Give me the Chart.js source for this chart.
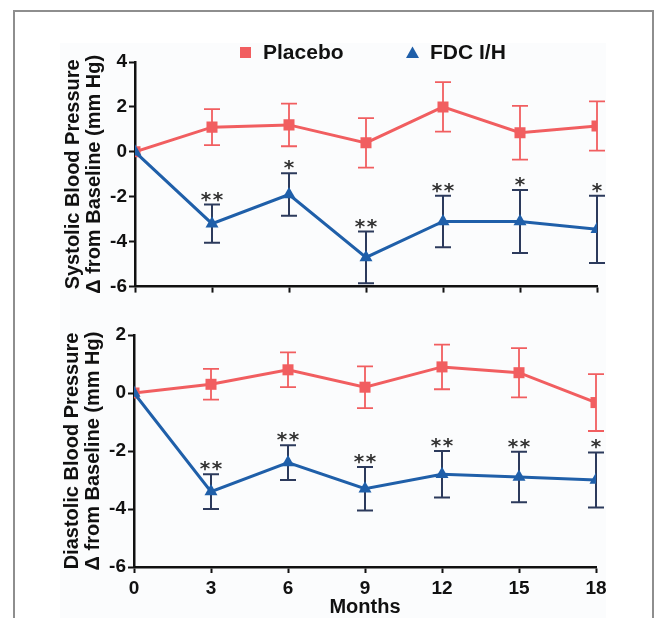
<!DOCTYPE html>
<html>
<head>
<meta charset="utf-8">
<script src="https://cdn.jsdelivr.net/npm/chart.js@4.4.1/dist/chart.umd.min.js"></script>
<style>
  html, body { margin: 0; padding: 0; background: #fff; overflow: hidden; }
  body { width: 658px; height: 618px; position: relative; }
  #frame { position: absolute; left: 13px; top: 10px; width: 637px; height: 640px; border: 2px solid #8e8e8e; }
  #paper { position: absolute; left: 60px; top: 43px; width: 546px; height: 600px; background: #fbfcfd; }
  .box { position: absolute; left: 0; width: 658px; }
  #top { top: 0; height: 300px; }
  #bottom { top: 300px; height: 318px; }
</style>
</head>
<body>
<div id="frame"></div>
<div id="paper"></div>
<div class="box" id="top"><canvas id="sbpChart"></canvas></div>
<div class="box" id="bottom"><canvas id="dbpChart"></canvas></div>
<script>
const months = [0, 3, 6, 9, 12, 15, 18];
const seriesNames = ['Placebo', 'FDC I/H'];

// systolic, change from baseline (mean and SE)
const sbpPlacebo = [0, 1.1, 1.2, 0.4, 2.0, 0.85, 1.15];
const sbpPlaceboErr = [0, 0.8, 0.95, 1.1, 1.1, 1.2, 1.1];
const sbpFdc = [0, -3.2, -1.9, -4.7, -3.1, -3.1, -3.45];
const sbpFdcErr = [0, 0.85, 0.95, 1.15, 1.15, 1.4, 1.5];
const sbpSig = ['', '**', '*', '**', '**', '*', '*'];
const sbpTicks = [-6, -4, -2, 0, 2, 4];

// diastolic
const dbpPlacebo = [0, 0.3, 0.8, 0.2, 0.9, 0.7, -0.33];
const dbpPlaceboErr = [0, 0.53, 0.6, 0.72, 0.77, 0.85, 0.98];
const dbpFdc = [0, -3.4, -2.4, -3.3, -2.8, -2.9, -3.0];
const dbpFdcErr = [0, 0.6, 0.6, 0.75, 0.8, 0.87, 0.95];
const dbpSig = ['', '**', '**', '**', '**', '**', '*'];
const dbpTicks = [-6, -4, -2, 0, 2];

const RED = '#f15e60';
const BLUE = '#1f5fa9';
const NAVY = '#2c3a5c';
const FONT = "'Liberation Sans', Arial, sans-serif";

// vertical error bars + significance stars, drawn through the chart scales
const errorBars = {
  id: 'errorBars',
  beforeDatasetsDraw(chart) {
    const ctx = chart.ctx;
    const xs = chart.scales.x, ys = chart.scales.y;
    chart.data.datasets.forEach(ds => {
      ctx.save();
      ctx.strokeStyle = ds.errColor;
      ctx.lineWidth = ds.errWidth;
      ds.data.forEach((p, i) => {
        const e = ds.err[i];
        if (!e) return;
        const x = xs.getPixelForValue(p.x);
        const yt = ys.getPixelForValue(p.y + e);
        const yb = ys.getPixelForValue(p.y - e);
        ctx.beginPath();
        ctx.moveTo(x, yt); ctx.lineTo(x, yb);
        ctx.moveTo(x - 8, yt); ctx.lineTo(x + 8, yt);
        ctx.moveTo(x - 8, yb); ctx.lineTo(x + 8, yb);
        ctx.stroke();
      });
      ctx.restore();
    });
  },
  afterDatasetsDraw(chart) {
    const ctx = chart.ctx;
    const xs = chart.scales.x, ys = chart.scales.y;
    chart.data.datasets.forEach(ds => {
      if (!ds.sig) return;
      ctx.save();
      ctx.fillStyle = '#333';
      ctx.font = 'bold 20px "DejaVu Sans", sans-serif';
      ctx.textAlign = 'center';
      ctx.textBaseline = 'alphabetic';
      ds.data.forEach((p, i) => {
        const s = ds.sig[i];
        if (!s) return;
        const x = xs.getPixelForValue(p.x);
        const y = ys.getPixelForValue(p.y + ds.err[i]) + 1;
        const n = s.length;
        for (let k = 0; k < n; k++) {
          ctx.fillText('*', x + (k - (n - 1) / 2) * 12, y);
        }
      });
      ctx.restore();
    });
  }
};

const legendBox = {
  id: 'legendBox',
  afterDraw(chart) {
    const ctx = chart.ctx;
    ctx.save();
    ctx.fillStyle = RED;
    ctx.fillRect(240, 47, 11, 11);
    ctx.fillStyle = BLUE;
    ctx.beginPath();
    ctx.moveTo(412.5, 46.5); ctx.lineTo(419, 58); ctx.lineTo(406, 58);
    ctx.closePath(); ctx.fill();
    ctx.fillStyle = '#111';
    ctx.font = 'bold 21px ' + FONT;
    ctx.textBaseline = 'middle';
    ctx.fillText(seriesNames[0], 263, 53);
    ctx.fillText(seriesNames[1], 430, 53);
    ctx.restore();
  }
};

function toPoints(values) {
  return values.map((v, i) => ({ x: months[i], y: v }));
}

function makeChart(canvasId, opts) {
  const ctx = document.getElementById(canvasId).getContext('2d');
  return new Chart(ctx, {
    type: 'line',
    data: {
      datasets: [{
        label: seriesNames[1],
        data: toPoints(opts.fdc),
        err: opts.fdcErr,
        sig: opts.sig,
        errColor: NAVY,
        errWidth: 2,
        borderColor: BLUE,
        backgroundColor: BLUE,
        borderWidth: 3,
        pointStyle: 'triangle',
        pointRadius: 7.5,
        pointBorderWidth: 0,
        order: 0
      }, {
        label: seriesNames[0],
        data: toPoints(opts.placebo),
        err: opts.placeboErr,
        errColor: RED,
        errWidth: 1.8,
        borderColor: RED,
        backgroundColor: RED,
        borderWidth: 3,
        pointStyle: 'rect',
        pointRadius: 7.8,
        pointBorderWidth: 0,
        order: 1
      }]
    },
    options: {
      responsive: true,
      maintainAspectRatio: false,
      animation: false,
      layout: { padding: opts.padding },
      plugins: { legend: { display: false }, tooltip: { enabled: false } },
      scales: {
        x: {
          type: 'linear',
          min: 0,
          max: 18,
          afterBuildTicks: s => { s.ticks = months.map(v => ({ value: v })); },
          afterFit: s => { s.height = opts.xHeight; },
          border: { color: '#111', width: 2.5 },
          grid: { drawOnChartArea: false, drawTicks: true, tickLength: 6, tickWidth: 2, tickColor: '#111' },
          ticks: { display: opts.showX, color: '#111', padding: 4, font: { family: FONT, size: 19, weight: 'bold' } },
          title: {
            display: opts.showX,
            text: 'Months',
            color: '#111',
            padding: { top: 0, bottom: 0 },
            font: { family: FONT, size: 20, weight: 'bold', lineHeight: 1.05 }
          }
        },
        y: {
          min: opts.yTicks[0],
          max: opts.yTicks[opts.yTicks.length - 1],
          afterBuildTicks: s => { s.ticks = opts.yTicks.map(v => ({ value: v })); },
          afterFit: s => { s.width = 77; },
          border: { color: '#111', width: 2.5 },
          grid: { drawOnChartArea: false, drawTicks: true, tickLength: 6, tickWidth: 2, tickColor: '#111' },
          ticks: { color: '#111', padding: 2, font: { family: FONT, size: 19, weight: 'bold' } },
          title: {
            display: true,
            text: opts.yTitle,
            color: '#111',
            padding: { top: 5, bottom: 0 },
            font: { family: FONT, size: 20, weight: 'bold', lineHeight: 1.05 }
          }
        }
      }
    },
    plugins: opts.legend ? [errorBars, legendBox] : [errorBars]
  });
}

makeChart('sbpChart', {
  placebo: sbpPlacebo, placeboErr: sbpPlaceboErr,
  fdc: sbpFdc, fdcErr: sbpFdcErr, sig: sbpSig,
  yTicks: sbpTicks,
  yTitle: ['Systolic Blood Pressure', '\u0394 from Baseline (mm Hg)'],
  padding: { left: 58, right: 61, top: 62, bottom: 0 },
  xHeight: 7,
  showX: false,
  legend: true
});

makeChart('dbpChart', {
  placebo: dbpPlacebo, placeboErr: dbpPlaceboErr,
  fdc: dbpFdc, fdcErr: dbpFdcErr, sig: dbpSig,
  yTicks: dbpTicks,
  yTitle: ['Diastolic Blood Pressure', '\u0394 from Baseline (mm Hg)'],
  padding: { left: 57, right: 62, top: 35, bottom: 0 },
  xHeight: 51,
  showX: true,
  legend: false
});
</script>
</body>
</html>
